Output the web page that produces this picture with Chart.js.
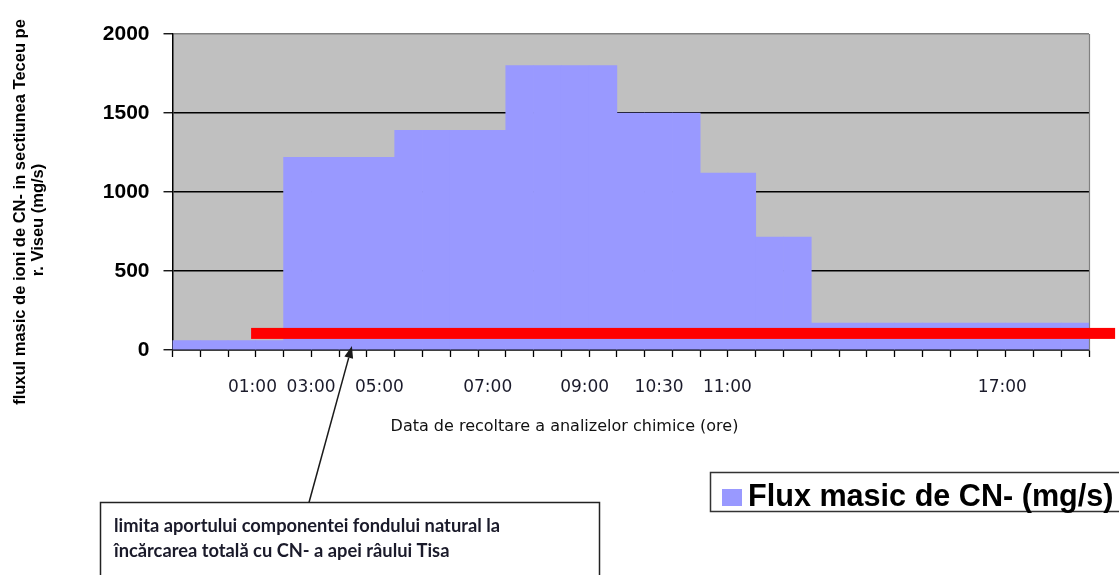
<!DOCTYPE html>
<html>
<head>
<meta charset="utf-8">
<script src="https://cdn.jsdelivr.net/npm/chart.js@4.4.1/dist/chart.umd.min.js"></script>
<style>
  html, body { margin: 0; padding: 0; background: #ffffff; }
  #wrap { width: 1119px; height: 575px; position: relative; }
</style>
</head>
<body>
<div id="wrap"><canvas id="c" width="1119" height="575"></canvas></div>
<script>
// Sampling slots along the time axis (one bar per slot)
const slots = ['1','2','3','4','5','6','7','8','9','10','11','12','13','14','15','16','17',
               '18','19','20','21','22','23','24','25','26','27','28','29','30','31','32','33'];

// Mass flux of CN- ions (mg/s) for each slot
const fluxValues = [60, 60, 60, 60,
                    1220, 1220, 1220, 1220,
                    1390, 1390, 1390, 1390,
                    1800, 1800, 1800, 1800,
                    1500, 1500, 1500,
                    1120, 1120,
                    715, 715,
                    170, 170, 170, 170, 170, 170, 170, 170, 170, 170];

// Hour labels and where they sit along the slot axis
const hourLabels    = ['01:00', '03:00', '05:00', '07:00', '09:00', '10:30', '11:00', '17:00'];
const hourPositions = [2.88, 4.99, 7.45, 11.35, 14.84, 17.52, 19.98, 29.88];

// Y axis ticks
const yTicks = [0, 500, 1000, 1500, 2000];

// Natural background contribution limit (mg/s) and its extent along the slot axis
const backgroundLimit = 105;
const limitSpan = [2.83, 33.94];

// Point the callout arrow aims at (slot position, mg/s)
const arrowTarget = [6.46, 25];

const seriesLabel = 'Flux masic de CN- (mg/s)';
const yTitle = ['fluxul masic de ioni de CN- in sectiunea Teceu pe', 'r. Viseu (mg/s)'];
const xTitle = 'Data de recoltare a analizelor chimice (ore)';
const noteLines = ['limita aportului componentei fondului natural la',
                   'încărcarea totală cu CN- a apei râului Tisa'];

const BAR_COLOR = '#9999FF';
const PLOT_BG = '#C0C0C0';

const plotBackground = {
  id: 'plotBackground',
  beforeDraw(chart) {
    const { ctx, chartArea: a } = chart;
    ctx.save();
    ctx.fillStyle = PLOT_BG;
    ctx.fillRect(a.left, a.top, a.right - a.left, a.bottom - a.top);
    ctx.restore();
  }
};

const overlay = {
  id: 'overlay',
  afterDatasetsDraw(chart) {
    const { ctx, chartArea: a } = chart;
    const hx = chart.scales.hours;
    const y = chart.scales.y;

    // right frame line of the plot
    ctx.save();
    ctx.strokeStyle = '#808080';
    ctx.lineWidth = 1.2;
    ctx.beginPath();
    ctx.moveTo(a.right + 0.5, a.top);
    ctx.lineTo(a.right + 0.5, a.bottom);
    ctx.stroke();

    // background limit band
    const ly = y.getPixelForValue(backgroundLimit);
    const lx0 = hx.getPixelForValue(limitSpan[0]);
    const lx1 = hx.getPixelForValue(limitSpan[1]);
    ctx.fillStyle = '#FF0000';
    ctx.fillRect(lx0, ly - 5.5, lx1 - lx0, 11);
    ctx.restore();
  },
  afterDraw(chart) {
    const { ctx, chartArea: a } = chart;
    const hx = chart.scales.hours;
    const y = chart.scales.y;
    ctx.save();

    // y axis title (two rotated lines)
    ctx.fillStyle = '#000';
    ctx.font = 'bold 16.5px "Liberation Sans", Arial, sans-serif';
    ctx.textAlign = 'center';
    ctx.textBaseline = 'middle';
    ctx.save();
    ctx.translate(20, a.top + 178);
    ctx.rotate(-Math.PI / 2);
    ctx.fillText(yTitle[0], 0, 0);
    ctx.fillText(yTitle[1], -8, 18);
    ctx.restore();

    // x axis title
    ctx.font = '16px "DejaVu Sans", sans-serif';
    ctx.fillStyle = '#111';
    ctx.fillText(xTitle, a.left + 392, 427);

    // legend box
    ctx.strokeStyle = '#333';
    ctx.lineWidth = 1.5;
    ctx.strokeRect(710.5, 472.5, 420, 39);
    ctx.fillStyle = BAR_COLOR;
    ctx.fillRect(722, 489, 20, 17);
    ctx.fillStyle = '#000';
    ctx.font = 'bold 30.6px "Liberation Sans", Arial, sans-serif';
    ctx.textAlign = 'left';
    ctx.textBaseline = 'alphabetic';
    ctx.fillText(seriesLabel, 748, 506);

    // note box
    const box = { left: 100.5, top: 502.5, right: 599.5 };
    ctx.strokeStyle = '#222';
    ctx.lineWidth = 1.5;
    ctx.strokeRect(box.left, box.top, box.right - box.left, 120);
    ctx.fillStyle = '#1a1a2a';
    ctx.font = 'bold 18.3px Lato, sans-serif';
    ctx.fillText(noteLines[0], 114, 532);
    ctx.fillText(noteLines[1], 114, 557);

    // callout arrow from the note to the limit
    const tx = hx.getPixelForValue(arrowTarget[0]);
    const ty = y.getPixelForValue(arrowTarget[1]);
    const sx = 309, sy = box.top;
    const ang = Math.atan2(ty - sy, tx - sx);
    const headLen = 12, headW = 4.5;
    const bx = tx - headLen * Math.cos(ang), by = ty - headLen * Math.sin(ang);
    ctx.strokeStyle = '#1a1a1a';
    ctx.lineWidth = 1.5;
    ctx.beginPath();
    ctx.moveTo(sx, sy);
    ctx.lineTo(bx, by);
    ctx.stroke();
    ctx.fillStyle = '#1a1a1a';
    ctx.beginPath();
    ctx.moveTo(tx, ty);
    ctx.lineTo(bx + headW * Math.sin(ang), by - headW * Math.cos(ang));
    ctx.lineTo(bx - headW * Math.sin(ang), by + headW * Math.cos(ang));
    ctx.closePath();
    ctx.fill();

    ctx.restore();
  }
};

new Chart(document.getElementById('c'), {
  type: 'bar',
  data: {
    labels: slots,
    datasets: [{
      label: seriesLabel,
      data: fluxValues,
      backgroundColor: BAR_COLOR,
      borderWidth: 0,
      barPercentage: 1,
      categoryPercentage: 1
    }]
  },
  options: {
    responsive: false,
    animation: false,
    layout: { padding: { left: 0, right: 30, top: 34, bottom: 0 } },
    plugins: { legend: { display: false }, tooltip: { enabled: false } },
    scales: {
      x: {
        type: 'category',
        position: 'bottom',
        offset: true,
        grid: { offset: true, drawOnChartArea: false, drawTicks: true, tickLength: 7, tickColor: '#000', tickWidth: 1.3 },
        border: { color: '#000', width: 1.5 },
        ticks: { display: false },
        afterFit(s) { s.height = 8; }
      },
      hours: {
        type: 'linear',
        position: 'bottom',
        offset: false,
        min: 0,
        max: slots.length,
        grid: { display: false, offset: false },
        border: { display: false },
        afterBuildTicks(s) { s.ticks = hourPositions.map(v => ({ value: v })); },
        ticks: {
          autoSkip: false,
          maxRotation: 0,
          padding: 11,
          color: '#1b1b2b',
          font: { family: '"DejaVu Sans", sans-serif', size: 17 },
          callback: (v, i) => hourLabels[i]
        },
        afterFit(s) { s.height = 217; }
      },
      y: {
        min: yTicks[0],
        max: yTicks[yTicks.length - 1],
        afterBuildTicks(s) { s.ticks = yTicks.map(v => ({ value: v })); },
        ticks: {
          padding: 14,
          color: '#000',
          font: { family: '"Liberation Sans", Arial, sans-serif', size: 21, weight: 'bold' },
          callback: v => String(v)
        },
        grid: {
          color: c => (c.tick && c.tick.value === 2000) ? '#808080' : '#000',
          lineWidth: 1.5,
          tickLength: 9,
          tickColor: '#000',
          tickWidth: 1.3
        },
        border: { color: '#000', width: 1.5 },
        afterFit(s) { s.width = 172.5; }
      }
    }
  },
  plugins: [plotBackground, overlay]
});
</script>
</body>
</html>
